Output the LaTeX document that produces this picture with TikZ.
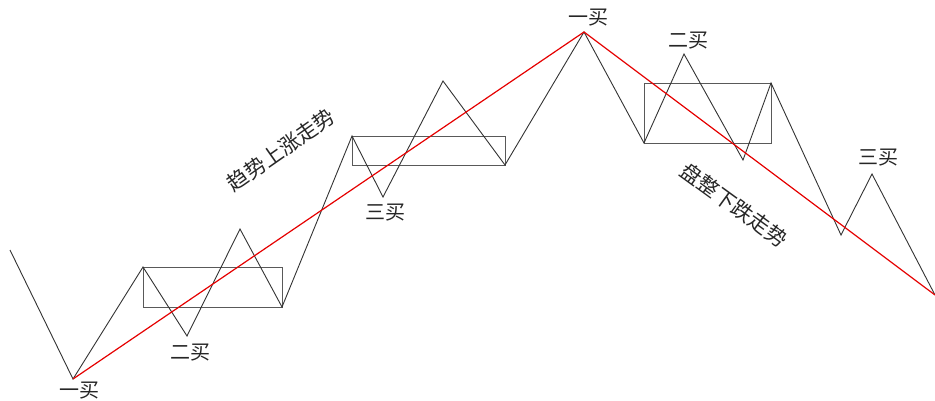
\documentclass[tikz,border=0pt]{standalone}
\usepackage{fontspec}
\newfontfamily\cjk{Noto Sans CJK SC}
\begin{document}
\begin{tikzpicture}[x=1pt,y=-1pt,
  zig/.style={draw=black!80, line width=0.9pt, line join=miter},
  boxline/.style={draw=black!65, line width=0.9pt},
  trend/.style={draw=red!90!black, line width=1.2pt},
  lbl/.style={font=\cjk\fontsize{20}{20}\selectfont, text=black!85, inner sep=0pt},
  slant/.style={font=\cjk\fontsize{21}{21}\selectfont, text=black!85, inner sep=0pt}]
\useasboundingbox (0,0) rectangle (935,401);
% zigzag points
\coordinate (p0) at (10,250);
\coordinate (p1) at (73,379);
\coordinate (p2) at (143,267);
\coordinate (p3) at (187,336);
\coordinate (p4) at (240,229);
\coordinate (p5) at (282,307);
\coordinate (p6) at (352,136);
\coordinate (p7) at (383,197);
\coordinate (p8) at (443,81);
\coordinate (p9) at (505,165);
\coordinate (p10) at (584,32);
\coordinate (p11) at (644,143);
\coordinate (p12) at (684,54);
\coordinate (p13) at (743,160);
\coordinate (p14) at (771,83);
\coordinate (p15) at (841,235);
\coordinate (p16) at (872,174);
\coordinate (p17) at (935,295);
% boxes
\draw[boxline] (143,267) rectangle (282,307);
\draw[boxline] (352,136) rectangle (505,165);
\draw[boxline] (644,83) rectangle (771,143);
% zigzag
\draw[zig] (p0) -- (p1) -- (p2) -- (p3) -- (p4) -- (p5) -- (p6) -- (p7) -- (p8) -- (p9) -- (p10) -- (p11) -- (p12) -- (p13) -- (p14) -- (p15) -- (p16) -- (p17);
% trend lines
\draw[trend] (p1) -- (p10) -- (p17);
% labels
\node[lbl] (b1) at (79,391) {一买};
\node[lbl] (b2) at (190,353) {二买};
\node[lbl] (b3) at (385,213) {三买};
\node[lbl] (s1) at (588,18) {一买};
\node[lbl] (s2) at (688,41) {二买};
\node[lbl] (s3) at (878,158) {三买};
\node[slant, rotate=35] (up) at (281,150) {趋势上涨走势};
\node[slant, rotate=-36] (down) at (734,205) {盘整下跌走势};
\end{tikzpicture}
\end{document}
